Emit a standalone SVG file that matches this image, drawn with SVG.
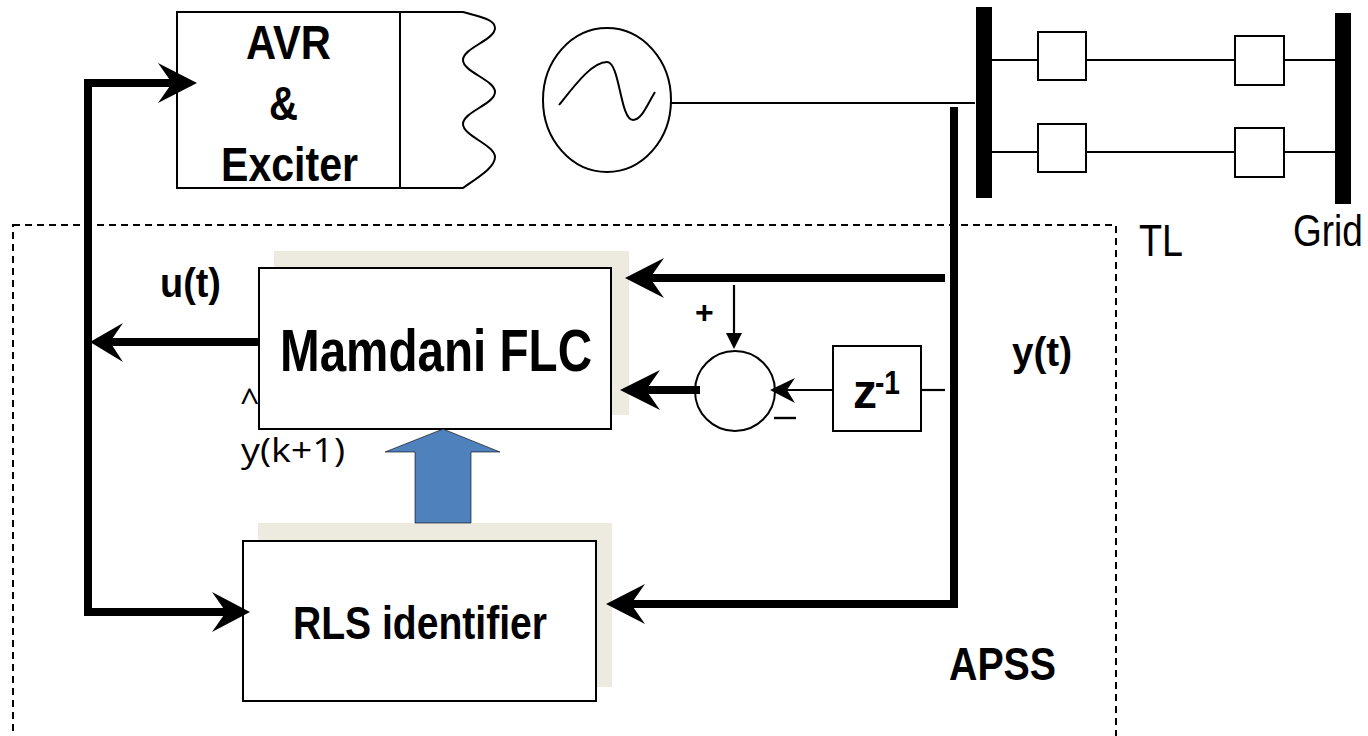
<svg xmlns="http://www.w3.org/2000/svg" width="1368" height="736" viewBox="0 0 1368 736">
<style>
.box{fill:#fff;stroke:#000;stroke-width:2}
.thin{fill:none;stroke:#000;stroke-width:2}
.thick{fill:none;stroke:#000;stroke-width:8}
.med{fill:none;stroke:#000;stroke-width:2.2}
.b{font-family:"Liberation Sans",Arial,sans-serif;font-weight:700;fill:#000}
.r{font-family:"Liberation Sans",Arial,sans-serif;fill:#000}
.o{font-family:"Open Sans",sans-serif;fill:#000}
.shadow{fill:#EDEBE0}
</style>
<rect width="1368" height="736" fill="#fff"/>
<rect id="apss-frame" x="13" y="225" width="1103" height="530" fill="none" stroke="#000" stroke-width="2" stroke-dasharray="7 5"/>
<g id="avr">
<path class="box" d="M177 12H463C480 17 495 19 495 28C495 40 463 48 463 60C463 72 495 80 495 92C495 104 463 112 463 124C463 136 495 145 495 157C495 167 480 176 463 188H177Z"/>
<path class="thin" d="M400 12V188"/>
<text class="b" x="246" y="59" font-size="48" textLength="85" lengthAdjust="spacingAndGlyphs">AVR</text>
<text class="b" x="269" y="120" font-size="48" textLength="29" lengthAdjust="spacingAndGlyphs">&amp;</text>
<text class="b" x="221" y="181" font-size="48" textLength="137" lengthAdjust="spacingAndGlyphs">Exciter</text>
</g>
<g id="generator">
<ellipse class="box" cx="607" cy="100" rx="64" ry="72"/>
<path class="thin" d="M559 105C575 85 592 62 607 62C620 62 620 120 633 120C642 120 648 103 655 92"/>
</g>
<g id="bus-left"><rect x="976" y="7" width="16" height="191" fill="#000"/></g>
<g id="bus-grid"><rect x="1335" y="13" width="16" height="191" fill="#000"/></g>
<g id="mamdani-flc">
<rect class="shadow" x="274" y="251" width="355" height="164"/>
<text class="o" x="240" y="413" font-size="34">^</text>
<rect class="box" x="259" y="268" width="352" height="161"/>
<text class="b" x="280" y="371" font-size="60" textLength="312" lengthAdjust="spacingAndGlyphs">Mamdani FLC</text>
</g>
<g id="rls-identifier">
<rect class="shadow" x="258" y="523" width="354" height="164"/>
<rect class="box" x="243" y="541" width="353" height="160"/>
<text class="b" x="293" y="639" font-size="46" textLength="254" lengthAdjust="spacingAndGlyphs">RLS identifier</text>
</g>
<g id="flow-arrow"><path d="M443 429L500 452H471V523H415V452H385Z" fill="#4F81BD" stroke="#000" stroke-width="0.6"/></g>
<g id="summer"><circle class="box" cx="735" cy="391" r="40"/></g>
<g id="z-delay">
<rect class="box" x="833" y="346" width="88" height="85"/>
<text class="b" x="853" y="408" font-size="48" textLength="24" lengthAdjust="spacingAndGlyphs">z</text>
<text class="b" x="875" y="394" font-size="34" textLength="25" lengthAdjust="spacingAndGlyphs">-1</text>
</g>
<g id="breakers">
<rect class="box" x="1038" y="32" width="48" height="48"/>
<rect class="box" x="1038" y="124" width="48" height="48"/>
<rect class="box" x="1235" y="36" width="49" height="49"/>
<rect class="box" x="1235" y="128" width="49" height="49"/>
</g>
<g id="connectors">
<path class="thin" d="M671 103H975"/>
<path class="thin" d="M992 60H1038M1086 60H1235M1284 60H1335M992 152H1038M1086 152H1235M1284 152H1335"/>
<path class="thick" d="M954 107V608"/>
<path class="thick" d="M88 80V616"/>
<path class="thick" d="M84 83H180"/>
<path class="thick" d="M84 612H235"/>
<path class="thick" d="M259 342H100"/>
<path class="thick" d="M945 278H640"/>
<path class="thick" d="M700 390H635"/>
<path class="thick" d="M958 604H620"/>
<path class="med" d="M734 285V335"/>
<path class="med" d="M921 390H945"/>
<path class="med" d="M833 390H785"/>
<path d="M197 83L158 63L172 83L158 103Z"/>
<path d="M250 612L212 592L226 612L212 632Z"/>
<path d="M90 342L123 323L110 342L123 362Z"/>
<path d="M625 278L664 258L650 278L664 298Z"/>
<path d="M620 390L660 370L646 390L660 410Z"/>
<path d="M606 604L645 584L631 604L645 624Z"/>
<path d="M734 349L726 333H742Z"/>
<path d="M770 390L795 378L787 390L795 403Z"/>
</g>
<g id="labels">
<text class="b" x="160" y="297" font-size="40" textLength="61" lengthAdjust="spacingAndGlyphs">u(t)</text>
<text class="b" x="1012" y="366" font-size="40" textLength="60" lengthAdjust="spacingAndGlyphs">y(t)</text>
<text class="b" x="949" y="680" font-size="46" textLength="107" lengthAdjust="spacingAndGlyphs">APSS</text>
<text class="r" x="1139" y="256" font-size="44" textLength="44" lengthAdjust="spacingAndGlyphs">TL</text>
<text class="r" transform="translate(1293 246) scale(.84 1)" font-size="44">Grid</text>
<text class="o" x="241" y="462" font-size="33" textLength="104" lengthAdjust="spacingAndGlyphs">y(k+1)</text>
<text class="b" x="695" y="323" font-size="32">+</text>
<path d="M774 418H796" stroke="#000" stroke-width="2.4"/>
</g>
</svg>
